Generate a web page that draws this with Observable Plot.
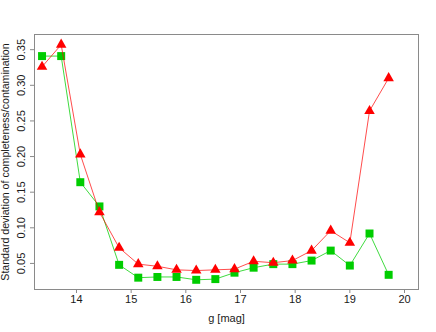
<!DOCTYPE html>
<html>
<head>
<meta charset="utf-8">
<script src="https://cdn.jsdelivr.net/npm/d3@7"></script>
<script src="https://cdn.jsdelivr.net/npm/@observablehq/plot@0.6"></script>
<style>
  html, body { margin: 0; padding: 0; background: #fff; }
  svg { display: block; }
</style>
</head>
<body>
<div id="chart"></div>
<script>
const gMag = [13.37, 13.72, 14.07, 14.42, 14.78, 15.13, 15.48, 15.83, 16.19, 16.54, 16.89, 17.24, 17.60, 17.95, 18.30, 18.65, 19.00, 19.36, 19.71];
const contamination = [0.326, 0.357, 0.203, 0.122, 0.072, 0.049, 0.046, 0.041, 0.040, 0.041, 0.042, 0.053, 0.051, 0.054, 0.068, 0.096, 0.079, 0.264, 0.310];
const completeness = [0.341, 0.341, 0.164, 0.130, 0.048, 0.030, 0.031, 0.031, 0.027, 0.028, 0.037, 0.044, 0.049, 0.049, 0.054, 0.068, 0.047, 0.092, 0.034];
const xTicks = [14, 15, 16, 17, 18, 19, 20];
const yTicks = [0.05, 0.10, 0.15, 0.20, 0.25, 0.30, 0.35];
const xLabel = "g [mag]";
const yLabel = "Standard deviation of completeness/contamination";

const red = gMag.map((g, i) => ({g, v: contamination[i]}));
const green = gMag.map((g, i) => ({g, v: completeness[i]}));

const font = "'Liberation Sans', Arial, Helvetica, sans-serif";

const chart = Plot.plot({
  width: 436,
  height: 332,
  marginTop: 34,
  marginBottom: 43,
  marginLeft: 34,
  marginRight: 18,
  style: {fontFamily: font, fontSize: "11px", color: "#1a1a1a", background: "#fff"},
  x: {domain: [13.232, 20.256]},
  y: {domain: [0.0134, 0.3713]},
  marks: [
    Plot.frame({stroke: "#8a8a8a", strokeWidth: 1}),
    Plot.axisX({ticks: xTicks, tickSize: 4, tickPadding: 2, tickFormat: d3.format("d"), label: null, stroke: "#8a8a8a", fontSize: 11}),
    Plot.axisY({ticks: yTicks, tickSize: 4, tickFormat: () => "", label: null, stroke: "#8a8a8a"}),
    Plot.text(yTicks, {y: d => d, text: d3.format(".2f"), frameAnchor: "left", dx: -13, rotate: -90, textAnchor: "middle", lineAnchor: "middle", fontSize: 11, fill: "#1a1a1a"}),
    Plot.text([xLabel], {frameAnchor: "bottom", dy: 29, lineAnchor: "middle", fontSize: 11, fill: "#1a1a1a"}),
    Plot.text([yLabel], {frameAnchor: "left", dx: -29, rotate: -90, textAnchor: "middle", lineAnchor: "middle", fontSize: 10.6, fill: "#1a1a1a"}),
    Plot.line(green, {x: "g", y: "v", stroke: "#00cd00", strokeWidth: 1, strokeOpacity: 0.75}),
    Plot.dot(green, {x: "g", y: "v", symbol: "square", r: 4.5, fill: "#00cd00", stroke: "none"}),
    Plot.line(red, {x: "g", y: "v", stroke: "#ff0000", strokeWidth: 1, strokeOpacity: 0.7}),
    Plot.dot(red, {x: "g", y: "v", symbol: "triangle", r: 3.9, fill: "#ff0000", stroke: "none"})
  ]
});
document.getElementById("chart").appendChild(chart);
</script>
</body>
</html>
